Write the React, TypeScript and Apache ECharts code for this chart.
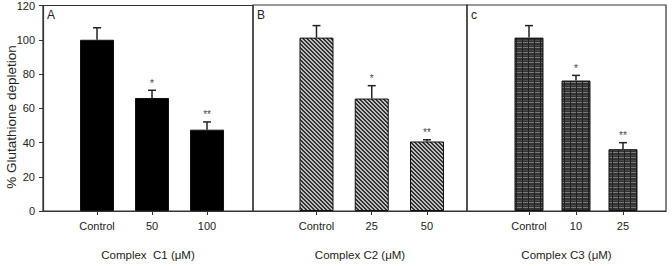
import React, { useEffect, useRef } from "react";
import * as echarts from "echarts";

// ---- data ----
const panelLetters = ["A", "B", "c"];
const categoriesA = ["Control", "50", "100"];
const categoriesB = ["Control", "25", "50"];
const categoriesC = ["Control", "10", "25"];
const valuesA = [100, 66, 47.5];
const valuesB = [101, 65.5, 40.5];
const valuesC = [101, 76, 36];
const errorsA = [7, 4.5, 4.5];
const errorsB = [7, 7.5, 1];
const errorsC = [7, 3, 3.8];
const marksA = ["", "*", "**"];
const marksB = ["", "*", "**"];
const marksC = ["", "*", "**"];
const axisTitles = ["Complex  C1 (\u03bcM)", "Complex C2 (\u03bcM)", "Complex C3 (\u03bcM)"];
const yAxisTitle = "% Glutathione depletion";
const yMin = 0;
const yMax = 120;
const yStep = 20;

const FONT = "'Liberation Sans Narrow', 'Arial Narrow', 'Liberation Sans', sans-serif";
const INK = "#222";

function makeTile(w: number, h: number, paint: (x: number, y: number) => string) {
  const c = document.createElement("canvas");
  c.width = w;
  c.height = h;
  const ctx = c.getContext("2d")!;
  for (let y = 0; y < h; y++) {
    for (let x = 0; x < w; x++) {
      ctx.fillStyle = paint(x, y);
      ctx.fillRect(x, y, 1, 1);
    }
  }
  return c.toDataURL();
}

export default function App() {
  const ref = useRef<HTMLDivElement>(null);

  useEffect(() => {
    document.body.style.margin = "0";
    const chart = echarts.init(ref.current!, null, { renderer: "svg" });

    const hatch = makeTile(4, 4, (x, y) => ((x - y + 8) % 4 < 2 ? "#333333" : "#bdbdbd"));
    const brick = makeTile(6, 5, (x, y) => {
      if (x === 0) return "#202020";
      if (y === 2) return "#7a7a7a";
      if (y === 0) return "#4a4a4a";
      return "#333333";
    });

    const panels = [
      { cats: categoriesA, vals: valuesA, errs: errorsA, marks: marksA, left: 43, width: 210, xMin: -0.982, xMax: 2.836, barWidth: 34, fill: "#000" as any },
      { cats: categoriesB, vals: valuesB, errs: errorsB, marks: marksB, left: 253, width: 214, xMin: -1.149, xMax: 2.724, barWidth: 34, fill: { image: hatch, repeat: "repeat", imageWidth: 4, imageHeight: 4 } },
      { cats: categoriesC, vals: valuesC, errs: errorsC, marks: marksC, left: 467, width: 199, xMin: -1.319, xMax: 2.915, barWidth: 29, fill: { image: brick, repeat: "repeat", imageWidth: 6, imageHeight: 5 } },
    ];

    const top = 5;
    const height = 207;

    const grid = panels.map((p) => ({
      left: p.left,
      top,
      width: p.width,
      height,
      show: true,
      borderColor: "#333",
      borderWidth: 1.2,
      backgroundColor: "transparent",
    }));

    const xAxis = panels.map((p, i) => ({
      type: "value",
      gridIndex: i,
      min: p.xMin,
      max: p.xMax,
      axisLine: { show: true, onZero: false, lineStyle: { color: "#333", width: 1.2 } },
      axisTick: { show: true, inside: false, length: 4, customValues: [0, 1, 2], lineStyle: { color: "#333" } },
      axisLabel: {
        customValues: [0, 1, 2],
        formatter: (v: number) => p.cats[Math.round(v)] ?? "",
        margin: 9,
        fontSize: 11,
        fontFamily: FONT,
        color: INK,
      },
      splitLine: { show: false },
      name: axisTitles[i],
      nameLocation: "middle",
      nameGap: 38,
      nameTextStyle: { fontSize: 11.5, fontFamily: FONT, color: INK },
    }));

    const yAxis = panels.map((p, i) => ({
      type: "value",
      gridIndex: i,
      min: yMin,
      max: yMax,
      interval: yStep,
      show: i === 0,
      axisLine: { show: true, onZero: false, lineStyle: { color: "#333", width: 1.2 } },
      axisTick: { show: true, inside: false, length: 4, lineStyle: { color: "#333" } },
      axisLabel: { margin: 8, fontSize: 11, fontFamily: FONT, color: INK },
      splitLine: { show: false },
    }));

    const series: any[] = [];
    panels.forEach((p, i) => {
      series.push({
        type: "bar",
        xAxisIndex: i,
        yAxisIndex: i,
        barWidth: p.barWidth,
        data: p.vals.map((v, j) => [j, v]),
        itemStyle: { color: p.fill, borderColor: "#111", borderWidth: 1 },
        z: 2,
      });
      series.push({
        type: "custom",
        xAxisIndex: i,
        yAxisIndex: i,
        z: 3,
        itemStyle: { color: "#333" },
        data: p.vals.map((v, j) => [j, v, p.errs[j]]),
        encode: { x: 0, y: 1 },
        renderItem: (params: any, api: any) => {
          const x = api.value(0);
          const y = api.value(1);
          const e = api.value(2);
          const base = api.coord([x, y]);
          const tip = api.coord([x, y + e]);
          const mark = p.marks[params.dataIndex];
          const children: any[] = [
            { type: "line", shape: { x1: base[0], y1: base[1], x2: tip[0], y2: tip[1] }, style: { stroke: "#222", lineWidth: 1.5 } },
            { type: "line", shape: { x1: tip[0] - 4, y1: tip[1], x2: tip[0] + 4, y2: tip[1] }, style: { stroke: "#222", lineWidth: 1.5 } },
          ];
          if (mark) {
            children.push({
              type: "text",
              x: tip[0],
              y: tip[1] - 2,
              style: { text: mark, fontSize: 10, fontFamily: FONT, fill: "#444", align: "center", verticalAlign: "bottom" },
            });
          }
          return { type: "group", children };
        },
      });
    });

    const graphic: any[] = panels.map((p, i) => ({
      type: "text",
      left: p.left + 4,
      top: top + 4,
      style: { text: panelLetters[i], fontSize: 12, fontFamily: FONT, fill: INK },
    }));
    graphic.push({
      type: "text",
      x: 11,
      y: 117,
      rotation: Math.PI / 2,
      style: { text: yAxisTitle, fontSize: 13.5, fontFamily: FONT, fill: INK, align: "center", verticalAlign: "middle" },
    });

    chart.setOption({
      animation: false,
      backgroundColor: "#fff",
      grid,
      xAxis,
      yAxis,
      series,
      graphic,
    } as any);

    return () => chart.dispose();
  }, []);

  return <div ref={ref} style={{ position: "fixed", left: 0, top: 0, width: 672, height: 266 }} />;
}
